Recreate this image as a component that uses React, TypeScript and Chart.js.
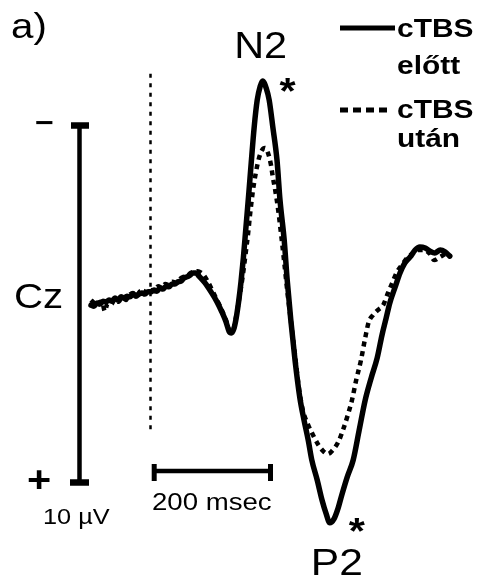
import { useEffect, useRef } from 'react';
import { Chart, registerables } from 'chart.js';

Chart.register(...registerables);

// Time (ms) and amplitude (µV, negative up) of the Cz waveform before cTBS
const BEFORE_T = [-100, -95, -90, -85, -80, -75, -70, -65, -60, -55, -50, -45, -40, -35, -30, -25, -20, -15, -10, -5, 0, 5, 10, 15, 20, 25, 30, 35, 40, 45, 50, 55, 60, 65, 70, 75, 80, 90, 100, 110, 118, 125, 130, 134, 138, 142, 146, 150, 154, 158, 163, 167, 172, 177, 182, 186, 192, 197, 203, 210, 215, 222, 227, 233, 240, 248, 255, 262, 268, 277, 285, 292, 298, 305, 312, 318, 327, 337, 347, 357, 367, 377, 385, 392, 398, 407, 415, 423, 432, 440, 448, 457, 465, 473, 482, 490, 498];
const BEFORE_V = [0.03, 0.06, -0.03, 0, -0.08, -0.06, -0.11, -0.08, -0.17, -0.11, -0.2, -0.17, -0.22, -0.2, -0.28, -0.22, -0.28, -0.31, -0.28, -0.34, -0.34, -0.39, -0.36, -0.45, -0.42, -0.5, -0.48, -0.56, -0.56, -0.62, -0.64, -0.73, -0.76, -0.81, -0.87, -0.87, -0.78, -0.59, -0.34, -0.06, 0.22, 0.5, 0.76, 0.81, 0.7, 0.39, -0.06, -0.62, -1.3, -2.1, -3.1, -3.95, -4.96, -5.71, -6.1, -6.25, -6.05, -5.71, -4.96, -4.03, -2.91, -1.79, -0.67, 0.45, 1.57, 2.62, 3.25, 3.81, 4.37, 4.93, 5.49, 5.88, 6.13, 6.02, 5.71, 5.35, 4.85, 4.37, 3.53, 2.69, 2.07, 1.51, 0.87, 0.39, -0.03, -0.48, -0.87, -1.15, -1.32, -1.51, -1.6, -1.57, -1.48, -1.43, -1.51, -1.46, -1.34];

// Waveform after cTBS
const AFTER_T = [-100, -95, -90, -85, -80, -77, -72, -66, -60, -54, -48, -42, -36, -30, -24, -18, -12, -6, 0, 6, 12, 18, 24, 30, 36, 42, 48, 54, 60, 66, 72, 78, 84, 88, 95, 105, 115, 125, 132, 137, 142, 148, 153, 158, 162, 165, 170, 175, 180, 185, 190, 195, 200, 203, 207, 212, 217, 222, 227, 233, 240, 247, 253, 262, 270, 278, 287, 295, 303, 312, 320, 328, 335, 342, 350, 357, 363, 370, 378, 387, 395, 402, 410, 418, 427, 435, 445, 455, 465, 472, 482, 492, 500];
const AFTER_V = [-0.11, -0.03, 0.06, -0.06, 0.03, 0.2, -0.03, 0, -0.14, -0.06, -0.2, -0.11, -0.25, -0.31, -0.22, -0.36, -0.28, -0.42, -0.39, -0.36, -0.5, -0.45, -0.56, -0.53, -0.62, -0.59, -0.7, -0.76, -0.78, -0.87, -0.9, -0.92, -0.87, -0.81, -0.62, -0.28, 0.06, 0.45, 0.78, 0.73, 0.34, -0.25, -0.8, -1.45, -2.0, -2.49, -3.19, -3.7, -4.09, -4.31, -4.37, -4.23, -3.89, -3.56, -3.19, -2.63, -1.93, -1.18, -0.39, 0.45, 1.43, 2.41, 2.97, 3.39, 3.67, 3.92, 4.12, 4.2, 4.09, 3.87, 3.53, 3.11, 2.69, 2.13, 1.57, 0.95, 0.5, 0.31, 0.17, 0.03, -0.31, -0.59, -0.9, -1.09, -1.29, -1.4, -1.51, -1.51, -1.4, -1.23, -1.32, -1.4, -1.32];

const SERIES_LABELS = ['cTBS előtt', 'cTBS után'];
const SCALE_UV = 10; // amplitude scale bar (µV), drawn from -5 to +5
const SCALE_MS = 200; // time scale bar (ms)

const FONT = '"Liberation Sans", Arial, Helvetica, sans-serif';
const SX = 1.15;

function txt(ctx: CanvasRenderingContext2D, s: string, x: number, y: number, font: string, align: CanvasTextAlign = 'left') {
  ctx.save();
  ctx.translate(x, y);
  ctx.scale(SX, 1);
  ctx.font = font;
  ctx.textAlign = align;
  ctx.textBaseline = 'alphabetic';
  ctx.fillText(s, 0, 0);
  ctx.restore();
}

function glyphCentered(ctx: CanvasRenderingContext2D, s: string, cx: number, cy: number, font: string) {
  ctx.save();
  ctx.font = font;
  const m = ctx.measureText(s);
  const dy = (m.actualBoundingBoxAscent - m.actualBoundingBoxDescent) / 2;
  ctx.translate(cx, cy + dy);
  ctx.scale(SX, 1);
  ctx.textAlign = 'center';
  ctx.textBaseline = 'alphabetic';
  ctx.fillText(s, 0, 0);
  ctx.restore();
}

const annotations = {
  id: 'erpAnnotations',
  beforeDraw(chart: any) {
    const ctx = chart.ctx;
    ctx.save();
    ctx.fillStyle = '#fff';
    ctx.fillRect(0, 0, chart.width, chart.height);
    ctx.restore();
  },
  afterDatasetsDraw(chart: any) {
    const ctx: CanvasRenderingContext2D = chart.ctx;
    const xs = chart.scales.x;
    const ys = chart.scales.y;
    const X = (t: number) => xs.getPixelForValue(t);
    const Y = (v: number) => ys.getPixelForValue(v);
    const line = (x1: number, y1: number, x2: number, y2: number) => {
      ctx.beginPath();
      ctx.moveTo(x1, y1);
      ctx.lineTo(x2, y2);
      ctx.stroke();
    };
    ctx.save();
    ctx.fillStyle = '#000';
    ctx.strokeStyle = '#000';
    ctx.lineCap = 'butt';

    // stimulus onset (dotted)
    ctx.lineWidth = 2.5;
    ctx.setLineDash([4, 5.5]);
    line(X(0) - 0.5, Y(-6.45), X(0) - 0.5, Y(3.6));
    ctx.setLineDash([]);

    // amplitude scale bar
    const half = SCALE_UV / 2;
    const bx = 79.5;
    ctx.lineWidth = 4.5;
    line(bx, Y(-half), bx, Y(half));
    ctx.lineWidth = 6.5;
    line(71, Y(-half), 89, Y(-half));
    line(70, Y(half), 89, Y(half));

    // time scale bar
    const by = 471;
    ctx.lineWidth = 4.5;
    line(X(0) + 2, by, X(SCALE_MS), by);
    ctx.lineWidth = 5;
    line(X(0) + 3.2, 464, X(0) + 3.2, 481);
    line(X(SCALE_MS) - 0.5, 464, X(SCALE_MS) - 0.5, 481);

    // texts
    txt(ctx, 'a)', 11, 38, `35px ${FONT}`);
    txt(ctx, 'Cz', 14, 308, `35px ${FONT}`);
    glyphCentered(ctx, '\u2212', 44.5, 123, `bold 28px ${FONT}`);
    glyphCentered(ctx, '+', 39, 479, `bold 36px ${FONT}`);
    txt(ctx, `${SCALE_UV} \u00b5V`, 43, 524, `22px ${FONT}`);
    txt(ctx, `${SCALE_MS} msec`, 152, 510, `24px ${FONT}`);

    // peak labels anchored on the "before" waveform extremes
    let iMin = 0, iMax = 0;
    BEFORE_V.forEach((v, i) => {
      if (v < BEFORE_V[iMin]) iMin = i;
      if (v > BEFORE_V[iMax]) iMax = i;
    });
    const nx = X(BEFORE_T[iMin]), ny = Y(BEFORE_V[iMin]);
    const px = X(BEFORE_T[iMax]), py = Y(BEFORE_V[iMax]);
    txt(ctx, 'N2', nx - 2, ny - 23, `36px ${FONT}`, 'center');
    glyphCentered(ctx, '*', nx + 25, ny + 4, `bold 36px ${FONT}`);
    txt(ctx, 'P2', px + 7, py + 52, `37px ${FONT}`, 'center');
    glyphCentered(ctx, '*', px + 27, py + 2, `bold 36px ${FONT}`);

    // legend
    ctx.lineWidth = 5;
    line(340, 28, 395, 28);
    const [l1, l2] = SERIES_LABELS.map((s) => s.split(' '));
    txt(ctx, l1[0], 397, 37, `bold 26px ${FONT}`);
    txt(ctx, l1[1], 397, 74, `bold 26px ${FONT}`);
    ctx.setLineDash([8, 5]);
    line(340, 110, 388, 110);
    ctx.setLineDash([]);
    txt(ctx, l2[0], 397, 118, `bold 26px ${FONT}`);
    txt(ctx, l2[1], 397, 147, `bold 26px ${FONT}`);

    ctx.restore();
  },
};

export default function App() {
  const ref = useRef<HTMLCanvasElement>(null);
  useEffect(() => {
    const chart = new Chart(ref.current as HTMLCanvasElement, {
      type: 'line',
      data: {
        datasets: [
          {
            label: SERIES_LABELS[0],
            data: BEFORE_T.map((t, i) => ({ x: t, y: BEFORE_V[i] })),
            borderColor: '#000',
            borderWidth: 5.5,
            pointRadius: 0,
            cubicInterpolationMode: 'monotone',
            borderJoinStyle: 'round',
            borderCapStyle: 'round',
            fill: false,
          },
          {
            label: SERIES_LABELS[1],
            data: AFTER_T.map((t, i) => ({ x: t, y: AFTER_V[i] })),
            borderColor: '#000',
            borderWidth: 4.5,
            borderDash: [5, 4.5],
            pointRadius: 0,
            cubicInterpolationMode: 'monotone',
            borderCapStyle: 'butt',
            fill: false,
          },
        ],
      },
      options: {
        animation: false,
        responsive: false,
        events: [],
        layout: { padding: { left: 85, right: 27, top: 36.25, bottom: 13.25 } },
        scales: {
          x: { type: 'linear', min: -110, max: 510, display: false },
          y: { type: 'linear', min: -7.5, max: 7.5, reverse: true, display: false },
        },
        plugins: { legend: { display: false }, tooltip: { enabled: false } },
      },
      plugins: [annotations],
    } as any);
    return () => chart.destroy();
  }, []);
  return (
    <div style={{ position: 'absolute', left: 0, top: 0, width: 484, height: 585, background: '#fff' }}>
      <canvas ref={ref} width={484} height={585} style={{ display: 'block' }} />
    </div>
  );
}
